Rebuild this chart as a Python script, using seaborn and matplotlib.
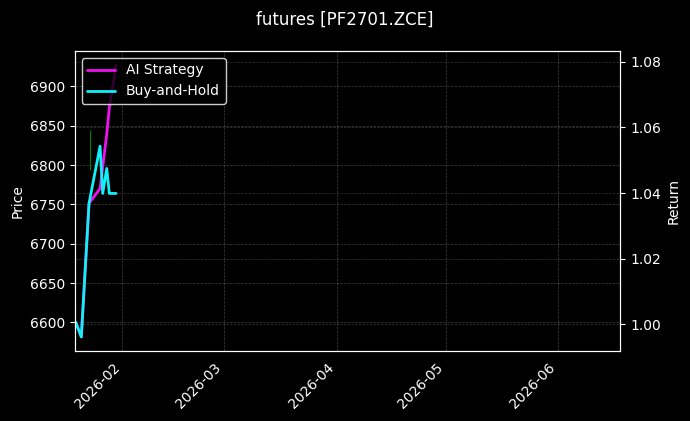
import numpy as np
import pandas as pd
import matplotlib
matplotlib.use("Agg")
import matplotlib.pyplot as plt
import matplotlib.dates as mdates
import seaborn as sns

# data
dates = pd.to_datetime([
    "2026-01-19 04:00", "2026-01-20 17:00", "2026-01-22 20:00", "2026-01-25 21:00",
    "2026-01-26 14:30", "2026-01-27 17:00", "2026-01-28 10:00", "2026-01-30 06:30",
])
ai_strategy = [1.0007, 0.9962, 1.0369, 1.0414, 1.0480, 1.0580, 1.0660, 1.0790]
buy_and_hold = [1.0007, 0.9962, 1.0369, 1.0543, 1.0399, 1.0475, 1.0399, 1.0399]

candle_dates = pd.to_datetime(["2026-01-23 00:30"])
candle_high = [6845]
candle_low = [6794]

price_lim = (6564, 6945)
return_lim = (0.992, 1.0833)
date_lim = pd.to_datetime(["2026-01-18 21:30", "2026-06-18 01:40"])

plt.style.use("dark_background")
sns.set_style("dark", {"axes.facecolor": "black", "figure.facecolor": "black"})
plt.rcParams["font.family"] = ["DejaVu Sans"]
plt.rcParams["text.color"] = "white"
plt.rcParams["axes.labelcolor"] = "white"
plt.rcParams["xtick.color"] = "white"
plt.rcParams["ytick.color"] = "white"
plt.rcParams["axes.edgecolor"] = "white"

fig = plt.figure(figsize=(6.9, 4.21), dpi=100)
ax1 = fig.add_axes([0.1083, 0.167, 0.7907, 0.712])
ax1.set_facecolor("black")

# price candles (only the wick is visible)
ax1.vlines(candle_dates, candle_low, candle_high, color="green", linewidth=0.8)
ax1.set_ylim(*price_lim)
ax1.set_ylabel("Price")
ax1.grid(True, linestyle="--", linewidth=0.5, color="white", alpha=0.25)

ax2 = ax1.twinx()
sns.lineplot(x=dates, y=ai_strategy, ax=ax2, color="#f010f0", linewidth=2, label="AI Strategy")
sns.lineplot(x=dates, y=buy_and_hold, ax=ax2, color="#10f0f8", linewidth=2, label="Buy-and-Hold")
ax2.set_ylim(*return_lim)
ax2.set_ylabel("Return")
ax2.grid(True, linestyle="--", linewidth=0.5, color="white", alpha=0.2)
ax2.legend(loc="upper left", facecolor="black", edgecolor="white", framealpha=0.8)

ax1.set_xlim(date_lim[0], date_lim[1])
ax1.xaxis.set_major_locator(mdates.MonthLocator())
ax1.xaxis.set_major_formatter(mdates.DateFormatter("%Y-%m"))
plt.setp(ax1.get_xticklabels(), rotation=45, ha="right")

for ax in (ax1, ax2):
    for sp in ax.spines.values():
        sp.set_color("white")
        sp.set_visible(True)
    ax.tick_params(colors="white", length=3.5, width=0.8)

fig.suptitle("futures [PF2701.ZCE]", fontsize=12, y=0.975)
fig.savefig("out.png", dpi=100, facecolor="black")
